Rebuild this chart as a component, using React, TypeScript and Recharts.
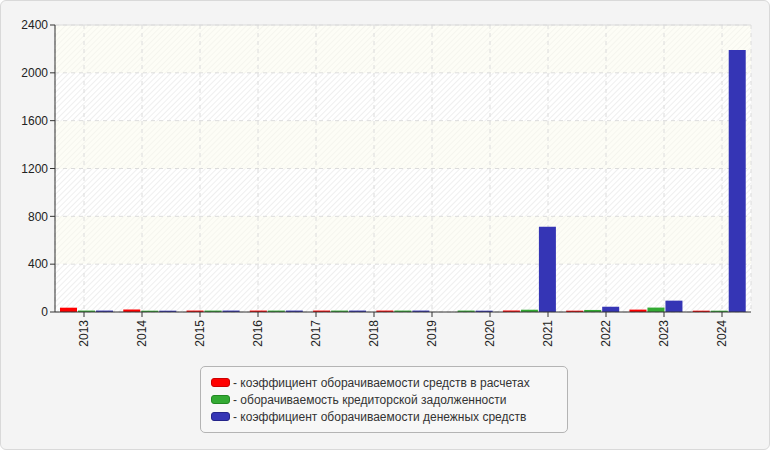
import React from "react";
import {
  BarChart,
  Bar,
  XAxis,
  YAxis,
  CartesianGrid,
  ReferenceLine,
} from "recharts";

// year labels on the axis (12) and the bar groups drawn under them (the source draws 11)
const yearLabels = ["2013", "2014", "2015", "2016", "2017", "2018", "2019", "2020", "2021", "2022", "2023", "2024"];
const settlements = [36, 21, 12, 12, 12, 12, 0, 12, 11, 20, 11];
const payables = [12, 11, 12, 12, 12, 12, 12, 19, 17, 37, 11];
const cash = [12, 11, 12, 12, 12, 12, 11, 713, 44, 95, 2190];
const yTicks = [0, 400, 800, 1200, 1600, 2000, 2400];

const seriesNames = [
  "- коэффициент оборачиваемости средств в расчетах",
  "- оборачиваемость кредиторской задолженности",
  "- коэффициент оборачиваемости денежных средств",
];
const colors = ["#ff0000", "#33aa33", "#3535b5"];
const borders = ["#cc0000", "#228822", "#24248a"];

const groupCount = cash.length;

const data = yearLabels.map((year, i) => ({
  year,
  pos: i + 0.5,
  slot: i < groupCount ? i + 0.5 : null,
  settlements: i < groupCount ? settlements[i] : null,
  payables: i < groupCount ? payables[i] : null,
  cash: i < groupCount ? cash[i] : null,
}));

const font = "'Liberation Sans', Arial, sans-serif";

function YearTick(props: any) {
  const { x, y, payload } = props;
  const label = yearLabels[Math.round(payload.value - 0.5)];
  return (
    <text
      x={x}
      y={y + 1}
      transform={`rotate(-90 ${x} ${y + 1})`}
      textAnchor="end"
      dy="0.35em"
      fontSize={12}
      fontFamily={font}
      fill="#222"
    >
      {label}
    </text>
  );
}

export default function App() {
  return (
    <div
      style={{
        position: "absolute",
        left: 0,
        top: 0,
        width: 770,
        height: 450,
        boxSizing: "border-box",
        background: "#f4f4f4",
        border: "1px solid #d9d9d9",
        borderRadius: 6,
        fontFamily: font,
      }}
    >
      <div style={{ position: "absolute", left: -1, top: -1 }}>
        <BarChart
          width={770}
          height={450}
          data={data}
          margin={{ top: 25, right: 19, left: 0, bottom: 78 }}
          barGap={1}
          barSize={17}
        >
          <defs>
            <pattern
              id="hatch"
              width="4"
              height="4"
              patternUnits="userSpaceOnUse"
              patternTransform="rotate(45)"
            >
              <rect width="4" height="4" fill="#ffffff" />
              <line x1="0" y1="0" x2="0" y2="4" stroke="#ececec" strokeWidth="1.6" />
            </pattern>
          </defs>
          <CartesianGrid
            xAxisId="lbl"
            fill="url(#hatch)"
            fillOpacity={1}
            horizontalFill={["rgba(251,252,238,0.5)", "rgba(255,255,255,0)"]}
            stroke="#dcdcdc"
            strokeDasharray="4 4"
          />
          <XAxis
            xAxisId="bars"
            dataKey="slot"
            type="number"
            domain={[0, groupCount]}
            allowDataOverflow
            hide
            height={0}
          />
          <XAxis
            xAxisId="lbl"
            dataKey="pos"
            type="number"
            domain={[0, yearLabels.length]}
            allowDataOverflow
            ticks={data.map((d) => d.pos)}
            interval={0}
            height={60}
            tickSize={5}
            tickMargin={2}
            axisLine={{ stroke: "#333" }}
            tickLine={{ stroke: "#333" }}
            tick={<YearTick />}
          />
          <YAxis
            domain={[0, 2400]}
            ticks={yTicks}
            interval={0}
            width={55}
            tickSize={5}
            axisLine={{ stroke: "#333" }}
            tickLine={{ stroke: "#333" }}
            tick={{ fontSize: 12, fill: "#222", fontFamily: font }}
          />
          <YAxis
            yAxisId="frame"
            orientation="right"
            domain={[0, 2400]}
            width={0}
            tick={false}
            tickLine={false}
            axisLine={{ stroke: "#dcdcdc" }}
          />
          <ReferenceLine y={2400} xAxisId="lbl" stroke="#dcdcdc" strokeDasharray="0" />
          <Bar xAxisId="bars" dataKey="settlements" fill={colors[0]} isAnimationActive={false} />
          <Bar xAxisId="bars" dataKey="payables" fill={colors[1]} isAnimationActive={false} />
          <Bar xAxisId="bars" dataKey="cash" fill={colors[2]} isAnimationActive={false} />
        </BarChart>
      </div>
      <div
        style={{
          position: "absolute",
          left: 199,
          top: 365,
          width: 368,
          height: 67,
          boxSizing: "border-box",
          border: "1px solid #b4b4b4",
          borderRadius: 5,
          background: "#f7f7f7",
          padding: "7px 0 0 10px",
          fontSize: 12,
          color: "#333",
        }}
      >
        {seriesNames.map((name, i) => (
          <div key={name} style={{ display: "flex", alignItems: "center", height: 17 }}>
            <span
              style={{
                display: "inline-block",
                width: 17,
                height: 7,
                background: colors[i],
                border: `1px solid ${borders[i]}`,
                borderRadius: 3,
                marginRight: 3,
              }}
            />
            <span>{name}</span>
          </div>
        ))}
      </div>
    </div>
  );
}
